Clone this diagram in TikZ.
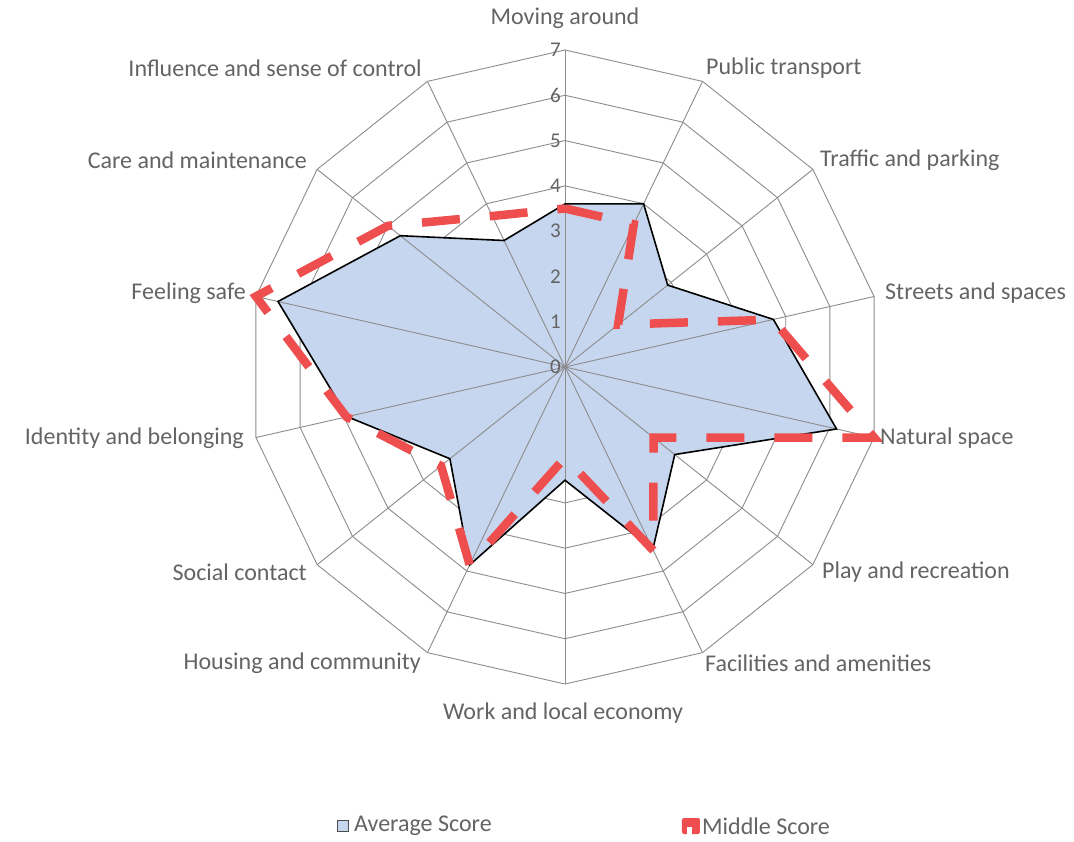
\documentclass[tikz,border=0pt]{standalone}
\usepackage{fontspec}
\setmainfont{Carlito}
\definecolor{gridgray}{RGB}{140,140,140}
\definecolor{textgray}{RGB}{100,100,100}
\definecolor{avgblue}{RGB}{198,214,238}
\definecolor{midred}{RGB}{238,78,78}
\newcommand{\unitr}{45.29}
\tikzset{
  gridline/.style={draw=gridgray, line width=0.9pt},
  avgline/.style={draw=black, line width=1.6pt, line join=miter},
  midline/.style={draw=midred, line width=8.5pt, line join=miter, dash pattern=on 38pt off 30pt},
  axislabel/.style={text=textgray, font=\fontsize{24}{28}\selectfont, inner sep=0pt},
  ticklabel/.style={text=textgray, font=\fontsize{21}{24}\selectfont, inner sep=0pt},
}

\begin{document}
\begin{tikzpicture}[x=1pt,y=1pt]
    \useasboundingbox[fill=white] (-565,367) rectangle (509,-474);
    % rings
    \foreach \k in {1,...,7}
        \draw[gridline] (90:\k*\unitr) \foreach \i in {1,...,13} { -- (90-\i*360/14:\k*\unitr) } -- cycle;
    % scores
    \foreach \v [count=\i from 0] in {3.6,4.0,2.9,4.72,6.15,3.1,4.47,2.5,4.85,3.25,4.93,6.5,4.65,3.1}
        \coordinate (a\i) at (90-\i*360/14:\v*\unitr);
    \foreach \v [count=\i from 0] in {3.5,3.5,1.5,4.7,7,2.5,4.5,2,4.85,3.5,4.95,7,5,3.7}
        \coordinate (m\i) at (90-\i*360/14:\v*\unitr);
    \fill[avgblue] (a0) -- (a1) -- (a2) -- (a3) -- (a4) -- (a5) -- (a6) -- (a7) -- (a8) -- (a9) -- (a10) -- (a11) -- (a12) -- (a13) -- cycle;
    % spokes
    \foreach \i in {0,...,13}
        \draw[gridline] (0,0) -- (90-\i*360/14:7*\unitr);
    \draw[avgline] (a0) -- (a1) -- (a2) -- (a3) -- (a4) -- (a5) -- (a6) -- (a7) -- (a8) -- (a9) -- (a10) -- (a11) -- (a12) -- (a13) -- cycle;
    \draw[midline] (m0) -- (m1) -- (m2) -- (m3) -- (m4) -- (m5) -- (m6) -- (m7) -- (m8) -- (m9) -- (m10) -- (m11) -- (m12) -- (m13) -- cycle;
    % scale
    \foreach \k in {0,...,7}
        \node[ticklabel, anchor=east] (t\k) at (-4,\k*\unitr) {\k};
    % axis names
    \node[axislabel] (lMove) at (0,349) {Moving around};
    \node[axislabel, anchor=west] (lBus) at (141,299) {Public transport};
    \node[axislabel, anchor=west] (lTraffic) at (255,207) {Traffic and parking};
    \node[axislabel, anchor=west] (lStreets) at (320,74) {Streets and spaces};
    \node[axislabel, anchor=west] (lNatural) at (315,-71) {Natural space};
    \node[axislabel, anchor=west] (lPlay) at (257,-205) {Play and recreation};
    \node[axislabel, anchor=west] (lFacil) at (140,-296) {Facilities and amenities};
    \node[axislabel] (lWork) at (-2,-346) {Work and local economy};
    \node[axislabel, anchor=east] (lHousing) at (-144,-296) {Housing and community};
    \node[axislabel, anchor=east] (lSocial) at (-258,-205) {Social contact};
    \node[axislabel, anchor=east] (lIdentity) at (-321,-71) {Identity and belonging};
    \node[axislabel, anchor=east] (lSafe) at (-319,74) {Feeling safe};
    \node[axislabel, anchor=east] (lCare) at (-258,207) {Care and maintenance};
    \node[axislabel, anchor=east] (lControl) at (-143,299) {Influence and sense of control};
    % legend
    \node[draw=black!70, fill=avgblue, line width=0.8pt, minimum size=11pt, inner sep=0pt] (keyAvg) at (-222,-459) {};
    \node[axislabel, anchor=west] (txtAvg) at (-211,-459) {Average Score};
    \fill[midred, rounded corners=2pt] (117,-451) rectangle (135,-467);
    \fill[white] (122,-460) rectangle (127,-468);
    \node[inner sep=0pt, minimum size=1pt] (keyMid) at (126,-459) {};
    \node[axislabel, anchor=west] (txtMid) at (137,-459) {Middle Score};
\end{tikzpicture}
\end{document}
